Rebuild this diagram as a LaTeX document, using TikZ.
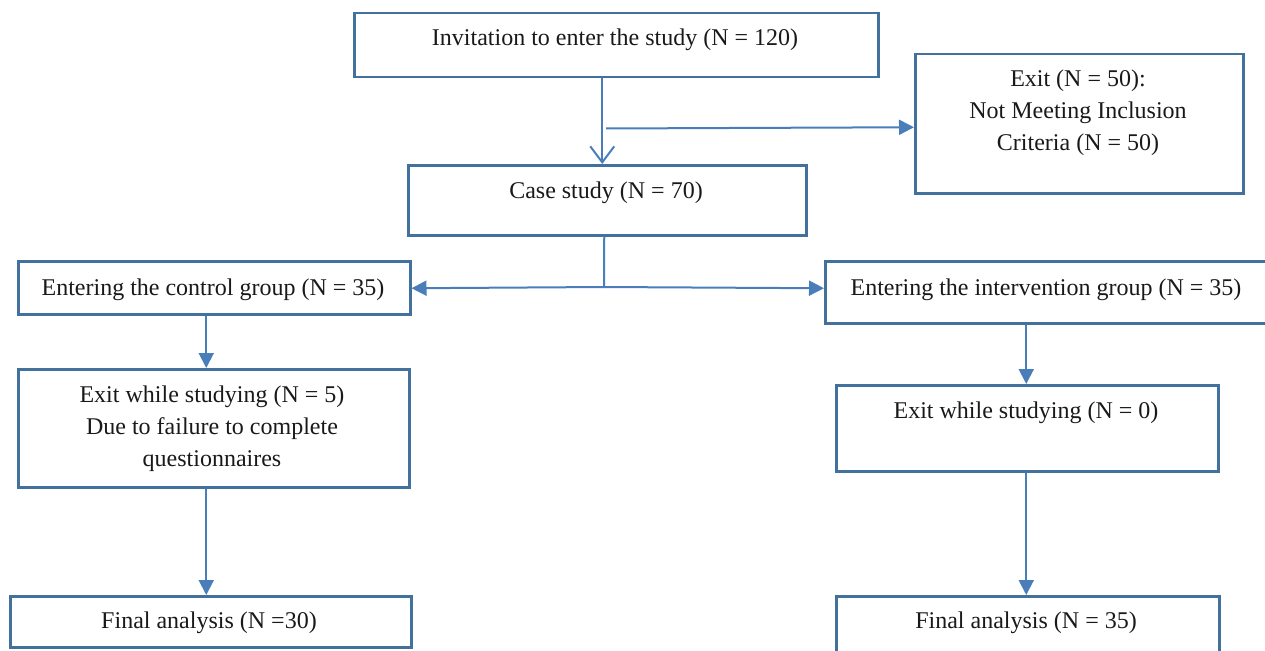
\documentclass[tikz,border=0pt]{standalone}
\usepackage{fontspec}
\setmainfont{Liberation Serif}
\usetikzlibrary{arrows.meta}
\definecolor{boxc}{RGB}{65,113,156}
\definecolor{linec}{RGB}{74,126,187}
\tikzset{
  box/.style={draw=boxc, line width=2.5pt, rectangle, inner sep=0pt, anchor=north west},
  txt/.style={font=\fontsize{24pt}{32pt}\selectfont, align=center, anchor=base, inner sep=0pt, text=black!90},
  arr/.style={draw=linec, line width=2pt, -{Triangle[length=15pt,width=15pt]}},
  arropen/.style={draw=linec, line width=2pt, -{Straight Barb[length=16pt,width=24pt,line width=2pt]}},
  plain/.style={draw=linec, line width=2pt}
}
\begin{document}
\begin{tikzpicture}[x=1pt,y=-1pt]
\useasboundingbox (0,0) rectangle (1265,650);
\clip (0,0) rectangle (1265,650);
% boxes
\node[box, minimum width=524pt, minimum height=64pt] (inv) at (353,12) {};
\node[box, minimum width=328pt, minimum height=139pt] (exit) at (914,53) {};
\node[box, minimum width=398pt, minimum height=70pt] (case) at (407,164) {};
\node[box, minimum width=392pt, minimum height=53pt] (ctrl) at (17,260) {};
\node[box, minimum width=444pt, minimum height=62pt] (intv) at (824,260) {};
\node[box, minimum width=391pt, minimum height=118pt] (exl) at (17,368) {};
\node[box, minimum width=382pt, minimum height=86pt] (exr) at (835,384) {};
\node[box, minimum width=401pt, minimum height=51pt] (finl) at (9,595) {};
\node[box, minimum width=383pt, minimum height=70pt] (finr) at (835,595) {};
% texts (base = baseline of last line)
\node[txt] (tinv) at (615,46) {Invitation to enter the study (N = 120)};
\node[txt] (texit) at (1078,150) {Exit (N = 50):\\Not Meeting Inclusion\\Criteria (N = 50)};
\node[txt] (tcase) at (606,198) {Case study (N = 70)};
\node[txt] (tctrl) at (213,295) {Entering the control group (N = 35)};
\node[txt] (tintv) at (1046,295) {Entering the intervention group (N = 35)};
\node[txt] (texl) at (212,466) {Exit while studying (N = 5)\\Due to failure to complete\\questionnaires};
\node[txt] (texr) at (1026,418) {Exit while studying (N = 0)};
\node[txt] (tfinl) at (209,628) {Final analysis (N =30)};
\node[txt] (tfinr) at (1026,628) {Final analysis (N = 35)};
% connectors
\draw[arropen] ([xshift=-14pt]inv.south) -- ([xshift=-5pt]case.north);
\coordinate (j1) at (606,128.5);
\draw[arr] (j1) -- ([yshift=-3.5pt]exit.west);
\coordinate (split) at (604,287);
\draw[plain] ([xshift=-3pt]case.south) -- (split);
\draw[arr] (split) -- ([yshift=-0.5pt]ctrl.east);
\draw[arr] (split) -- ([yshift=4pt]intv.west);
\draw[arr] ([xshift=-8pt]ctrl.south) -- ([xshift=-7.5pt]exl.north);
\draw[arr] ([xshift=-21pt]intv.south) -- ([xshift=-1pt]exr.north);
\draw[arr] ([xshift=-7.5pt]exl.south) -- ([xshift=-4.5pt]finl.north);
\draw[arr] ([xshift=-1pt]exr.south) -- ([xshift=-1.5pt]finr.north);
\end{tikzpicture}
\end{document}
